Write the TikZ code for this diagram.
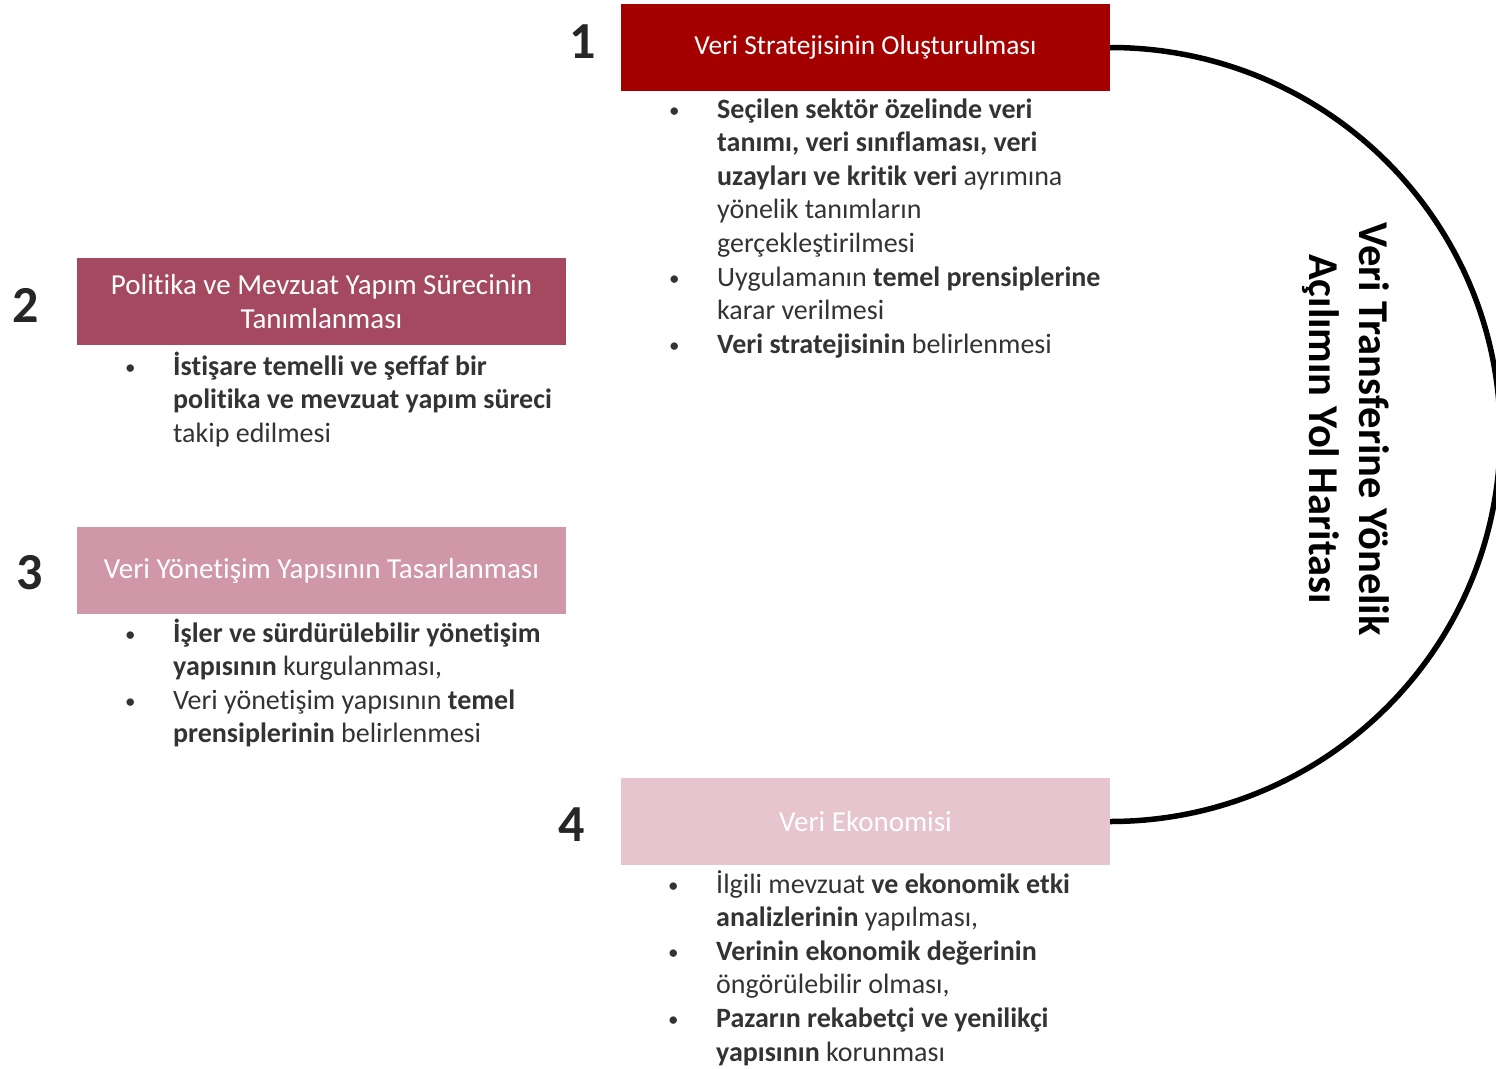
\documentclass[tikz,border=0pt]{standalone}
\usepackage{fontspec}
\usepackage{graphicx}
\setmainfont{Carlito}[RawFeature={-liga}]
\definecolor{cA}{HTML}{A50000}
\definecolor{cB}{HTML}{A4495F}
\definecolor{cC}{HTML}{D097A9}
\definecolor{cD}{HTML}{E6C5CE}
\definecolor{txt}{HTML}{333333}
\definecolor{numc}{HTML}{262626}
\newcommand{\bodyfont}{\fontsize{28}{33.6}\selectfont}
\newcommand{\bul}{\raisebox{1pt}{\scalebox{0.75}{•}}}
\begin{document}
\begin{tikzpicture}[x=1pt,y=-1pt,
  stagebox/.style={minimum width=489pt,minimum height=87pt,inner sep=0pt,text=white,align=center,font=\fontsize{29}{34}\selectfont},
  stagenum/.style={font=\fontsize{52}{52}\selectfont\bfseries,text=numc,inner sep=0pt},
  bullets/.style={anchor=base west,inner sep=0pt,text=txt,font=\bodyfont}]
\useasboundingbox (0,0) rectangle (1496,1068);

\node[stagebox,fill=cA,font=\fontsize{27.4}{34}\selectfont] (b1) at (865.5,47.5) {Veri Stratejisinin Oluşturulması};
\node[stagebox,fill=cB] (b2) at (321.5,301.5) {Politika ve Mevzuat Yapım Sürecinin\\Tanımlanması};
\node[stagebox,fill=cC] (b3) at (321.5,570.5) {Veri Yönetişim Yapısının Tasarlanması};
\node[stagebox,fill=cD] (b4) at (865.5,821.5) {Veri Ekonomisi};

\node[stagenum] (n1) at (583,42) {1};
\node[stagenum] (n2) at (26,305) {2};
\node[stagenum] (n3) at (30,573) {3};
\node[stagenum] (n4) at (572,825) {4};

\node[bullets] (t1) at (669,118) {\begin{tabular}[t]{@{}p{48pt}@{}l@{}}
\bul&\textbf{Seçilen sektör özelinde veri}\\
&\textbf{tanımı, veri sınıflaması, veri}\\
&\textbf{uzayları ve kritik veri} ayrımına\\
&yönelik tanımların\\
&gerçekleştirilmesi\\
\bul&Uygulamanın \textbf{temel prensiplerine}\\
&karar verilmesi\\
\bul&\textbf{Veri stratejisinin} belirlenmesi
\end{tabular}};

\node[bullets] (t2) at (125,375) {\begin{tabular}[t]{@{}p{48pt}@{}l@{}}
\bul&\textbf{İstişare temelli ve şeffaf bir}\\
&\textbf{politika ve mevzuat yapım süreci}\\
&takip edilmesi
\end{tabular}};

\node[bullets] (t3) at (125,642) {\begin{tabular}[t]{@{}p{48pt}@{}l@{}}
\bul&\textbf{İşler ve sürdürülebilir yönetişim}\\
&\textbf{yapısının} kurgulanması,\\
\bul&Veri yönetişim yapısının \textbf{temel}\\
&\textbf{prensiplerinin} belirlenmesi
\end{tabular}};

\node[bullets] (t4) at (668,893) {\begin{tabular}[t]{@{}p{48pt}@{}l@{}}
\bul&İlgili mevzuat \textbf{ve ekonomik etki}\\
&\textbf{analizlerinin} yapılması,\\
\bul&\textbf{Verinin ekonomik değerinin}\\
&öngörülebilir olması,\\
\bul&\textbf{Pazarın rekabetçi ve yenilikçi}\\
&\textbf{yapısının} korunması
\end{tabular}};

\draw[line width=5.5pt] (b1.east) arc[start angle=90,end angle=-90,x radius=390pt,y radius=387pt] -- (b4.east);

\node[rotate=-90,inner sep=0pt,align=center,font=\fontsize{42.5}{50}\selectfont\bfseries] (title) at (1346,429)
  {Veri Transferine Yönelik\\Açılımın Yol Haritası};
\end{tikzpicture}
\end{document}
